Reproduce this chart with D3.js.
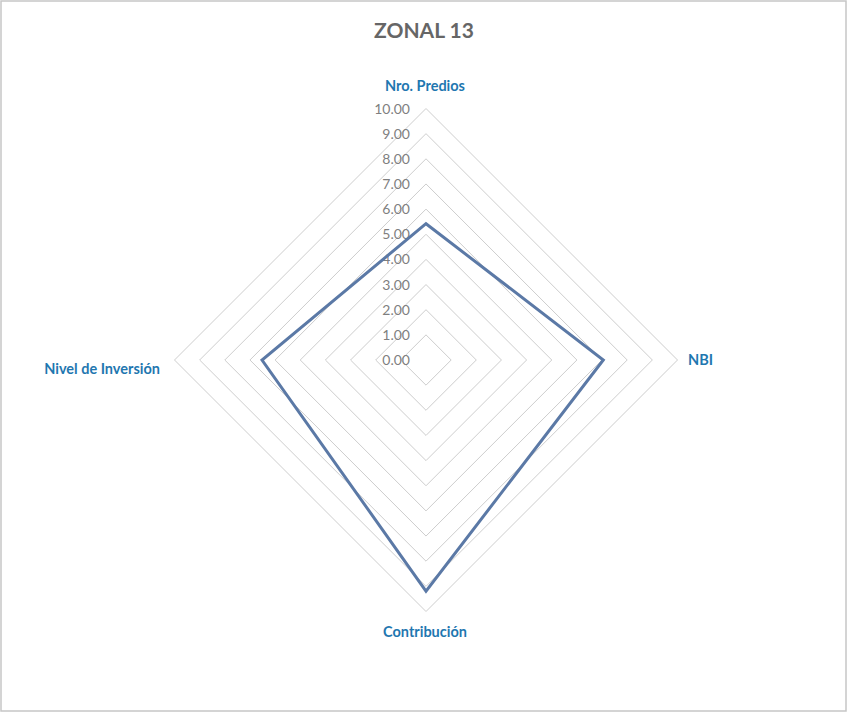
<!DOCTYPE html>
<html>
<head>
<meta charset="utf-8">
<script src="https://cdn.jsdelivr.net/npm/d3@7.9.0/dist/d3.min.js"></script>
<style>
  body { margin: 0; background: #fff; }
  svg { display: block; font-family: Lato, "Open Sans", sans-serif; }
</style>
</head>
<body>
<svg id="chart" width="848" height="713"></svg>
<script>
// data
const axes = ['Nro. Predios', 'NBI', 'Contribución', 'Nivel de Inversión'];
const values = [5.42, 7.05, 9.19, 6.52];
const ticks = [0, 1, 2, 3, 4, 5, 6, 7, 8, 9, 10];
const title = 'ZONAL 13';

const svg = d3.select('#chart');
const cx = 426, cy = 360;

svg.append('rect')
    .attr('x', 1).attr('y', 1)
    .attr('width', 845).attr('height', 710)
    .attr('fill', 'none')
    .attr('stroke', '#c6c6c6')
    .attr('stroke-width', 1.5);

svg.append('text')
    .attr('x', 424).attr('y', 38)
    .attr('text-anchor', 'middle')
    .attr('font-size', 21)
    .attr('font-weight', 'bold')
    .attr('fill', '#666666')
    .text(title);

const r = d3.scaleLinear().domain([0, 10]).range([0, 251.5]);
const angle = i => i * 2 * Math.PI / axes.length;

const g = svg.append('g').attr('transform', `translate(${cx},${cy})`);

const radial = d3.lineRadial()
    .angle((d, i) => angle(i))
    .radius(d => r(d))
    .curve(d3.curveLinearClosed);

// grid rings (no spokes in the original)
g.selectAll('path.grid')
    .data(ticks.slice(1))
    .enter()
    .append('path')
    .attr('class', 'grid')
    .attr('d', t => radial(axes.map(() => t)))
    .attr('fill', 'none')
    .attr('stroke', '#cdcdcd')
    .attr('stroke-width', 1);

// tick labels
g.selectAll('text.tick')
    .data(ticks)
    .enter()
    .append('text')
    .attr('class', 'tick')
    .attr('x', -16)
    .attr('y', t => -r(t) + 5)
    .attr('text-anchor', 'end')
    .attr('font-size', 14)
    .attr('fill', '#7f7f7f')
    .text(t => d3.format('.2f')(t));

// data series
g.append('path')
    .datum(values)
    .attr('d', radial)
    .attr('fill', 'none')
    .attr('stroke', '#5b79a6')
    .attr('stroke-width', 3)
    .attr('stroke-linejoin', 'miter');

// axis labels
const labelPos = [
  { x: -1, y: -269, anchor: 'middle' },
  { x: 262, y: 5, anchor: 'start' },
  { x: -1, y: 277, anchor: 'middle' },
  { x: -266, y: 14, anchor: 'end' }
];
g.selectAll('text.axis')
    .data(axes)
    .enter()
    .append('text')
    .attr('class', 'axis')
    .attr('x', (d, i) => labelPos[i].x)
    .attr('y', (d, i) => labelPos[i].y)
    .attr('text-anchor', (d, i) => labelPos[i].anchor)
    .attr('font-size', 14.5)
    .attr('font-weight', 'bold')
    .attr('fill', '#1f77b0')
    .text(d => d);
</script>
</body>
</html>
